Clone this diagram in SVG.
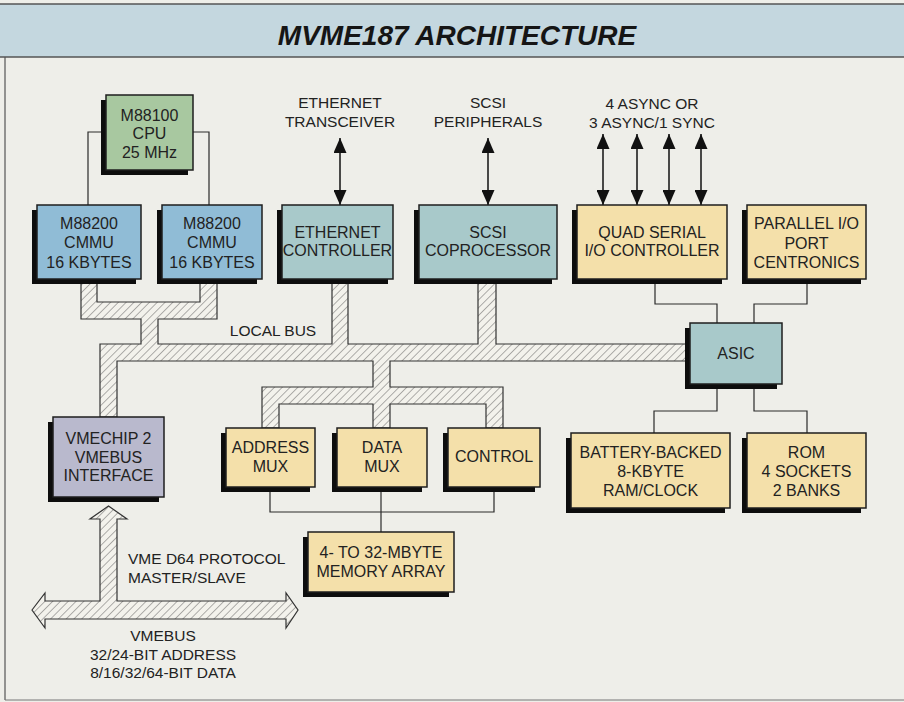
<svg xmlns="http://www.w3.org/2000/svg" width="904" height="702" viewBox="0 0 904 702">
<style>
.box{stroke:#1e1e1e;stroke-width:1.5}
.sh{fill:#0d0d0d}
.t{font-family:"Liberation Sans",Arial,sans-serif;font-size:16px;fill:#222;text-anchor:middle}
.lbl{font-family:"Liberation Sans",Arial,sans-serif;font-size:15.5px;fill:#222;text-anchor:middle}
.ln{fill:none;stroke:#2a2a2a;stroke-width:1.2}
.bus{fill:url(#hatch);stroke:#333;stroke-width:1.2;stroke-linejoin:miter}
.arr{stroke:#111;stroke-width:1.5;marker-start:url(#ah);marker-end:url(#ah)}
.cpu{fill:#a8c8a0}
.cmmu{fill:#90bcd6}
.teal{fill:#a8c9ca}
.yel{fill:#f4e0aa}
.vme{fill:#b9b9cd}
</style>
<defs>
<pattern id="hatch" patternUnits="userSpaceOnUse" width="5.5" height="5.5" patternTransform="rotate(45)">
<rect width="5.5" height="5.5" fill="#f3f2ec"/>
<line x1="0" y1="0" x2="0" y2="5.5" stroke="#666" stroke-width="1"/>
</pattern>
<marker id="ah" markerWidth="15" markerHeight="13" refX="15" refY="6.5" viewBox="0 0 15 13" orient="auto-start-reverse" markerUnits="userSpaceOnUse">
<path d="M0,0 L15,6.5 L0,13 Z" fill="#111"/>
</marker>
</defs>
<rect x="0" y="0" width="904" height="702" fill="#eeeee9"/>
<rect x="0" y="4" width="904" height="53" fill="#c4d7df"/>
<line x1="0" y1="4" x2="904" y2="4" stroke="#555" stroke-width="1.5"/>
<line x1="0" y1="57" x2="904" y2="57" stroke="#555" stroke-width="1.5"/>
<line x1="5" y1="57" x2="5" y2="700" stroke="#555" stroke-width="1.2"/>
<line x1="5" y1="700" x2="904" y2="700" stroke="#777" stroke-width="1"/>
<text x="457" y="45" font-family="'Liberation Sans',Arial,sans-serif" font-size="28" font-weight="bold" font-style="italic" fill="#151515" text-anchor="middle">MVME187 ARCHITECTURE</text>

<g id="connectors">
<path class="bus" d="M81,279 H97 V302 H200 V279 H217 V319 H158 V344 H332 V279 H348 V344 H478 V279 H496 V344 H690 V361 H390 V387 H503 V428 H486 V404 H390 V428 H373 V404 H279 V428 H262 V387 H373 V361 H117 V417 H100 V344 H141 V319 H81 Z"/>
<path class="bus" d="M32,610 L45,593 V601 H100 V519 H90 L108.5,506 L127,519 H117 V601 H286 V593 L298,610 L286,628 V619 H45 V628 Z"/>
<path class="ln" d="M106,132 H88 V205"/>
<path class="ln" d="M193,132 H209 V205"/>
<path class="ln" d="M655,279 V304 H717 V323"/>
<path class="ln" d="M807,279 V304 H754 V323"/>
<path class="ln" d="M717,384 V411 H654 V433"/>
<path class="ln" d="M754,384 V411 H807 V433"/>
<path class="ln" d="M270,487 V512 H494 V487"/>
<path class="ln" d="M381,487 V532"/>
<line class="arr" x1="340" y1="138" x2="340" y2="205"/>
<line class="arr" x1="488" y1="138" x2="488" y2="205"/>
<line class="arr" x1="603" y1="134" x2="603" y2="205"/>
<line class="arr" x1="637" y1="134" x2="637" y2="205"/>
<line class="arr" x1="669" y1="134" x2="669" y2="205"/>
<line class="arr" x1="701" y1="134" x2="701" y2="205"/>
</g>

<g id="labels">
<text class="lbl" x="340" y="108">ETHERNET</text>
<text class="lbl" x="340" y="127">TRANSCEIVER</text>
<text class="lbl" x="488" y="108">SCSI</text>
<text class="lbl" x="488" y="127">PERIPHERALS</text>
<text class="lbl" x="652" y="109">4 ASYNC OR</text>
<text class="lbl" x="652" y="128">3 ASYNC/1 SYNC</text>
<text class="lbl" x="273" y="336">LOCAL BUS</text>
<text class="lbl" x="128" y="564" style="text-anchor:start">VME D64 PROTOCOL</text>
<text class="lbl" x="128" y="583" style="text-anchor:start">MASTER/SLAVE</text>
<text class="lbl" x="163" y="641">VMEBUS</text>
<text class="lbl" x="163" y="660">32/24-BIT ADDRESS</text>
<text class="lbl" x="163" y="678">8/16/32/64-BIT DATA</text>
</g>

<g id="cpu">
<rect class="sh" x="101" y="100" width="87" height="75"/>
<rect class="box cpu" x="106" y="95" width="87" height="75"/>
<text class="t" x="149.5" y="120.5">M88100</text>
<text class="t" x="149.5" y="139">CPU</text>
<text class="t" x="149.5" y="157.5">25 MHz</text>
</g>
<g id="cmmu1">
<rect class="sh" x="32" y="210" width="104" height="74"/>
<rect class="box cmmu" x="37" y="205" width="104" height="74"/>
<text class="t" x="89" y="229">M88200</text>
<text class="t" x="89" y="248">CMMU</text>
<text class="t" x="89" y="267.5">16 KBYTES</text>
</g>
<g id="cmmu2">
<rect class="sh" x="157" y="210" width="100" height="74"/>
<rect class="box cmmu" x="162" y="205" width="100" height="74"/>
<text class="t" x="212" y="229">M88200</text>
<text class="t" x="212" y="248">CMMU</text>
<text class="t" x="212" y="267.5">16 KBYTES</text>
</g>
<g id="ethernet">
<rect class="sh" x="277" y="210" width="111" height="74"/>
<rect class="box teal" x="282" y="205" width="111" height="74"/>
<text class="t" x="337.5" y="238">ETHERNET</text>
<text class="t" x="337.5" y="256">CONTROLLER</text>
</g>
<g id="scsi">
<rect class="sh" x="414" y="210" width="138" height="74"/>
<rect class="box teal" x="419" y="205" width="138" height="74"/>
<text class="t" x="488" y="238">SCSI</text>
<text class="t" x="488" y="256">COPROCESSOR</text>
</g>
<g id="quadserial">
<rect class="sh" x="572" y="210" width="150" height="74"/>
<rect class="box yel" x="577" y="205" width="150" height="74"/>
<text class="t" x="652" y="238">QUAD SERIAL</text>
<text class="t" x="652" y="256">I/O CONTROLLER</text>
</g>
<g id="parallel">
<rect class="sh" x="742" y="210" width="119" height="74"/>
<rect class="box yel" x="747" y="205" width="119" height="74"/>
<text class="t" x="806.5" y="229">PARALLEL I/O</text>
<text class="t" x="806.5" y="248.5">PORT</text>
<text class="t" x="806.5" y="267.5">CENTRONICS</text>
</g>
<g id="asic">
<rect class="sh" x="685" y="328" width="92" height="61"/>
<rect class="box teal" x="690" y="323" width="92" height="61"/>
<text class="t" x="736" y="359">ASIC</text>
</g>
<g id="battery">
<rect class="sh" x="566" y="438" width="159" height="75"/>
<rect class="box yel" x="571" y="433" width="159" height="75"/>
<text class="t" x="650.5" y="458">BATTERY-BACKED</text>
<text class="t" x="650.5" y="477">8-KBYTE</text>
<text class="t" x="650.5" y="496">RAM/CLOCK</text>
</g>
<g id="rom">
<rect class="sh" x="742" y="438" width="119" height="75"/>
<rect class="box yel" x="747" y="433" width="119" height="75"/>
<text class="t" x="806.5" y="458">ROM</text>
<text class="t" x="806.5" y="477">4 SOCKETS</text>
<text class="t" x="806.5" y="496">2 BANKS</text>
</g>
<g id="vmechip">
<rect class="sh" x="48" y="422" width="111" height="80"/>
<rect class="box vme" x="53" y="417" width="111" height="80"/>
<text class="t" x="108.5" y="444">VMECHIP 2</text>
<text class="t" x="108.5" y="463">VMEBUS</text>
<text class="t" x="108.5" y="481">INTERFACE</text>
</g>
<g id="addressmux">
<rect class="sh" x="221" y="433" width="89" height="59"/>
<rect class="box yel" x="226" y="428" width="89" height="59"/>
<text class="t" x="270.5" y="453">ADDRESS</text>
<text class="t" x="270.5" y="472">MUX</text>
</g>
<g id="datamux">
<rect class="sh" x="332" y="433" width="90" height="59"/>
<rect class="box yel" x="337" y="428" width="90" height="59"/>
<text class="t" x="382" y="453">DATA</text>
<text class="t" x="382" y="472">MUX</text>
</g>
<g id="control">
<rect class="sh" x="443" y="433" width="92" height="59"/>
<rect class="box yel" x="448" y="428" width="92" height="59"/>
<text class="t" x="494" y="462">CONTROL</text>
</g>
<g id="memory">
<rect class="sh" x="303" y="537" width="146" height="60"/>
<rect class="box yel" x="308" y="532" width="146" height="60"/>
<text class="t" x="381" y="558">4- TO 32-MBYTE</text>
<text class="t" x="381" y="577">MEMORY ARRAY</text>
</g>
</svg>
